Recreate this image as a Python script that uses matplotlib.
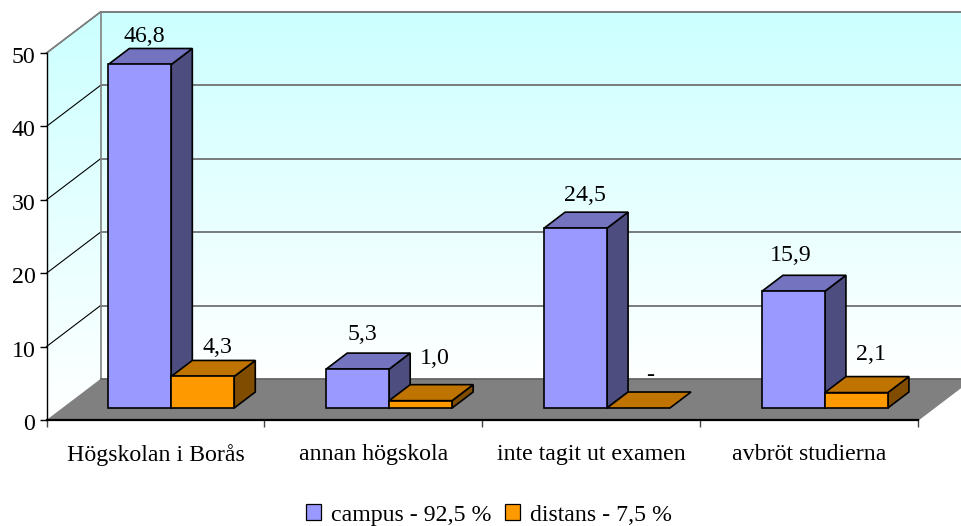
import numpy as np
import matplotlib
matplotlib.use("Agg")
import matplotlib.pyplot as plt
from matplotlib.patches import Polygon, Patch
from matplotlib.colors import LinearSegmentedColormap
from matplotlib.transforms import ScaledTranslation

# ---- data ----
categories = ["Högskolan i Borås", "annan högskola", "inte tagit ut examen", "avbröt studierna"]
campus = [46.8, 5.3, 24.5, 15.9]
distans = [4.3, 1.0, 0.0, 2.1]
campus_labels = ["46,8", "5,3", "24,5", "15,9"]
distans_labels = ["4,3", "1,0", "-", "2,1"]
series_names = ["campus - 92,5 %", "distans - 7,5 %"]
y_ticks = [0, 10, 20, 30, 40, 50]

# ---- style ----
plt.rcParams["font.family"] = ["Liberation Serif", "DejaVu Serif"]
W, H = 961, 526
FS = 17.2
fig = plt.figure(figsize=(W / 100, H / 100), dpi=100)
L, R, B, T = 46.5, 918.0, 420.0, 53.0
ax = fig.add_axes([L / W, 1 - B / H, (R - L) / W, (B - T) / H])
ax.set_xlim(0, 4)
ax.set_ylim(0, 50)
ax.patch.set_visible(False)

DX = 54 / ((R - L) / 4)      # depth shift in category units
DY = 41 / ((B - T) / 50)     # depth shift in value units
BAR_W = 0.289
D0, D1 = 12 / 41, 28 / 41    # bar front/back depth fraction


def P(x, y, d=0.0):
    return (x + d * DX, y + d * DY)


def poly(pts, fc="none", ec="none", lw=1.2, z=2):
    p = Polygon(pts, closed=True, facecolor=fc, edgecolor=ec, linewidth=lw,
                zorder=z, clip_on=False, joinstyle="miter")
    ax.add_patch(p)
    return p


# walls with gradient
cmap = LinearSegmentedColormap.from_list("wall", ["#FFFFFF", "#CCFFFF"])
grad = np.linspace(1, 0, 256).reshape(-1, 1)
ext_back = (P(0, 0, 1)[0], P(4, 0, 1)[0], P(0, 0, 1)[1], P(0, 50, 1)[1])
ax.imshow(grad, cmap=cmap, extent=ext_back, aspect="auto", zorder=0, clip_on=False,
          vmin=0, vmax=1)
im = ax.imshow(grad, cmap=cmap, aspect="auto", zorder=0, vmin=0, vmax=1,
               extent=(0, P(0, 0, 1)[0], 0, P(0, 50, 1)[1]))
side = Polygon([P(0, 0), P(0, 0, 1), P(0, 50, 1), P(0, 50)], closed=True,
               transform=ax.transData, facecolor="none", edgecolor="none", clip_on=False)
ax.add_patch(side)
im.set_clip_path(side)
im.set_clip_box(fig.bbox)
ax.set_xlim(0, 4)
ax.set_ylim(0, 50)

# floor
poly([P(0, 0), P(4, 0), P(4, 0, 1), P(0, 0, 1)], fc="#808080", ec="none", z=1)
ax.plot(*zip(P(0, 0, 1), P(4, 0, 1)), color="#666666", lw=1.3, zorder=1.2, clip_on=False)

# grid and wall borders
for v in y_ticks[1:]:
    ax.plot(*zip(P(0, v), P(0, v, 1)), color="black", lw=0.8, zorder=1.1, clip_on=False)
    ax.plot(*zip(P(0, v, 1), P(4, v, 1)), color="#666666", lw=1.2, zorder=1.1, clip_on=False)
ax.plot(*zip(P(0, 0, 1), P(0, 50, 1)), color="#808080", lw=1.2, zorder=1.1, clip_on=False)
ax.plot(*zip(P(0, 50), P(0, 50, 1)), color="#808080", lw=1.2, zorder=1.2, clip_on=False)
ax.plot(*zip(P(4, 0), P(4, 0, 1)), color="#808080", lw=1.0, zorder=1.2, clip_on=False)


def bar3d(x0, v, front, top, sidec, z):
    x1 = x0 + BAR_W
    if v > 0:
        poly([P(x1, 0, D0), P(x1, 0, D1), P(x1, v, D1), P(x1, v, D0)], fc=sidec, ec="black", z=z)
    poly([P(x0, v, D0), P(x1, v, D0), P(x1, v, D1), P(x0, v, D1)], fc=top, ec="black", z=z)
    if v > 0:
        poly([P(x0, 0, D0), P(x1, 0, D0), P(x1, v, D0), P(x0, v, D0)], fc=front, ec="black", z=z)


campus_off = [(5, 28), (5, 35), (9, 33), (-3, 36)]
distans_off = [(15, 29), (14, 42), (12, 33), (15, 38)]
for i in range(len(categories)):
    xl = i + 0.5 - BAR_W
    xm = i + 0.5
    bar3d(xl, campus[i], "#9999FF", "#7373BF", "#4D4D80", 3)
    bar3d(xm, distans[i], "#FF9900", "#BF7300", "#804D00", 3.1)
    for x0, v, lab, off in ((xl, campus[i], campus_labels[i], campus_off[i]),
                            (xm, distans[i], distans_labels[i], distans_off[i])):
        ax.annotate(lab, xy=P(x0 + BAR_W / 2, v, D0), xytext=off, textcoords="offset pixels",
                    ha="center", va="center", fontsize=FS, color="black", zorder=6,
                    annotation_clip=False)

# axes
for s in ("top", "right"):
    ax.spines[s].set_visible(False)
ax.spines["left"].set_linewidth(1.0)
ax.spines["bottom"].set_linewidth(1.6)
for s in ax.spines.values():
    s.set_zorder(4)
ax.set_yticks(y_ticks)
ax.tick_params(axis="y", length=5, width=1.0, pad=3, labelsize=FS)
shift = ScaledTranslation(0, -2 / 100, fig.dpi_scale_trans)
for lab in ax.get_yticklabels():
    lab.set_transform(lab.get_transform() + shift)
ax.set_xticks(range(len(categories) + 1))
ax.set_xticklabels([])
ax.tick_params(axis="x", which="major", length=5, width=1.0, color="#444444")
ax.set_xticks(np.arange(len(categories)) + 0.5, minor=True)
ax.set_xticklabels(categories, minor=True)
ax.tick_params(axis="x", which="minor", length=0, pad=17, labelsize=FS)

# legend
handles = [Patch(facecolor="#9999FF", edgecolor="black", linewidth=0.9),
           Patch(facecolor="#FF9900", edgecolor="black", linewidth=0.9)]
fig.legend(handles, series_names, loc="center", bbox_to_anchor=(489 / W, 1 - 515 / H),
           ncol=2, frameon=False, fontsize=FS, handlelength=0.6, handleheight=0.6,
           handletextpad=0.42, columnspacing=0.6, borderpad=0)

fig.savefig("out.png", dpi=100)
